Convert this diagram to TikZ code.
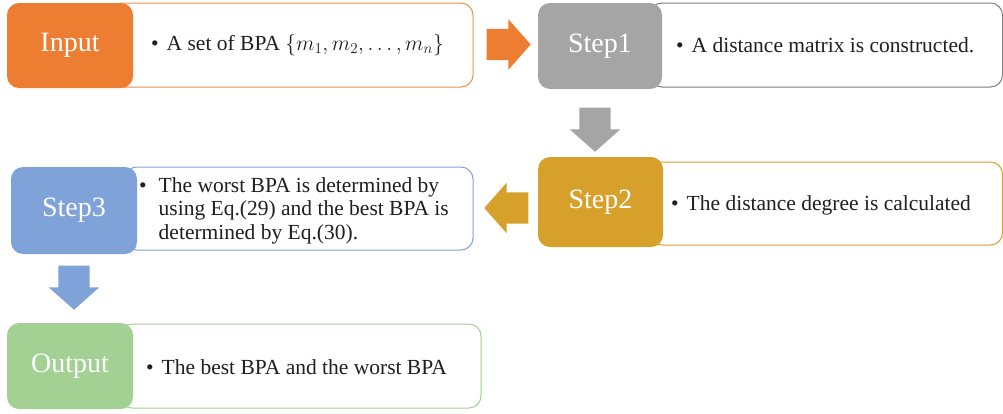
\RequirePackage{fix-cm}
\documentclass[tikz,border=0pt]{standalone}
\usepackage{fontspec}
\setmainfont{Liberation Serif}
\usetikzlibrary{shapes.arrows}
\definecolor{inorange}{HTML}{ED7D31}
\definecolor{stepgray}{HTML}{A5A5A5}
\definecolor{linegray}{HTML}{7F7F7F}
\definecolor{stepgold}{HTML}{D6A02A}
\definecolor{stepblue}{HTML}{7FA3D8}
\definecolor{outgreen}{HTML}{A2D193}
\newcommand{\bpitem}[1]{\textbullet\hspace{8pt}#1}
\tikzset{
    stage/.style={fill=#1, rounded corners=12pt, text=white, inner sep=0pt,
        minimum width=126pt, minimum height=86pt, font=\fontsize{28}{32}\selectfont},
    infobox/.style={draw=#1, fill=white, rounded corners=12pt, line width=1pt},
    infotext/.style={anchor=west, inner sep=0pt, text=black!88, font=\fontsize{21.5}{23.5}\selectfont},
    blockarrow/.style={single arrow, fill=#1, inner xsep=0pt, inner ysep=15.5pt, anchor=tip,
        single arrow head extend=9.5pt, single arrow tip angle=97, minimum height=44pt}
}
\begin{document}
\begin{tikzpicture}[x=1pt, y=-1pt]
    \useasboundingbox (0,0) rectangle (1003,413);
    \draw[infobox=inorange!85] (110,3) rectangle (473,87);
    \draw[infobox=linegray] (650,3) rectangle (1002.5,87);
    \draw[infobox=stepgold] (650,162) rectangle (1002.5,245);
    \draw[infobox=stepblue] (125,167) rectangle (473,250);
    \draw[infobox=outgreen] (120,324) rectangle (481,408);
    \node[stage=inorange, minimum height=85pt] (input) at (70,45.5) {Input};
    \node[stage=stepgray, minimum width=124pt] (step1) at (600,46) {Step1};
    \node[stage=stepgold, minimum width=125pt, minimum height=90pt] (step2) at (600.5,202) {Step2};
    \node[stage=stepblue, minimum height=87pt] (step3) at (74,210.5) {Step3};
    \node[stage=outgreen] (output) at (70,366) {Output};
    \node[blockarrow=inorange] (arrowa) at (531,44.5) {};
    \node[blockarrow=stepgray, rotate=-90] (arrowb) at (595,152) {};
    \node[blockarrow=stepgold, rotate=180] (arrowc) at (484,208) {};
    \node[blockarrow=stepblue, rotate=-90] (arrowd) at (74,310) {};
    \node[infotext] (inputtext) at (151,45) {\bpitem{A set of BPA $\{m_1, m_2, \ldots, m_n\}$}};
    \node[infotext] (step1text) at (676,45) {\bpitem{A distance matrix is constructed.}};
    \node[infotext] (step2text) at (671,205) {\bpitem{The distance degree is calculated}};
    \node[infotext] (step3text) at (139,211) {\begin{tabular}{@{}l@{\hspace{12pt}}l@{}}
        \textbullet & The worst BPA is determined by\\
        & using Eq.(29) and the best BPA is\\
        & determined by Eq.(30).
    \end{tabular}};
    \node[infotext] (outputtext) at (146,367) {\bpitem{The best BPA and the worst BPA}};
\end{tikzpicture}
\end{document}
